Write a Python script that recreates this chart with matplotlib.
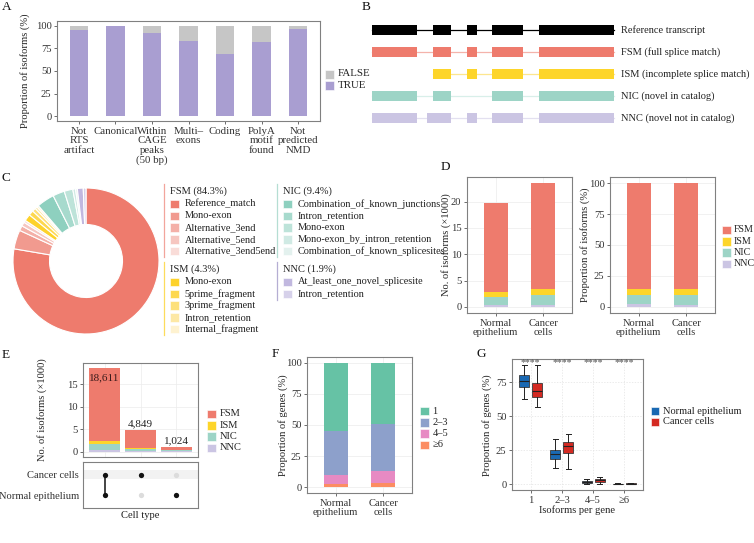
import matplotlib
matplotlib.use("Agg")
import matplotlib.pyplot as plt
import matplotlib.patches as patches
import numpy as np

plt.rcParams["font.family"] = ["Liberation Serif", "DejaVu Serif"]
plt.rcParams["font.size"] = 7
plt.rcParams["text.color"] = "#222222"

# ---------------- data ----------------
# A
a_labels = ["Not\nRTS\nartifact", "Canonical", "Within\nCAGE\npeaks\n(50 bp)", "Multi\u2013\nexons",
            "Coding", "PolyA\nmotif\nfound", "Not\npredicted\nNMD"]
a_true = [95.0, 99.5, 91.5, 83.0, 69.0, 82.0, 96.5]
a_false = [5.0, 0.5, 8.5, 17.0, 31.0, 18.0, 3.5]

# B (schematic exon coordinates, arbitrary units)
b_rows = ["Reference transcript", "FSM (full splice match)", "ISM (incomplete splice match)",
          "NIC (novel in catalog)", "NNC (novel not in catalog)"]
b_ref = [(0, 45), (61, 79), (95, 105), (120, 151), (167, 242)]
b_exons = [b_ref, b_ref, b_ref[1:], [b_ref[0], b_ref[1], b_ref[3], b_ref[4]],
           [(0, 45), (55, 79), (95, 105), (120, 151), (167, 242)]]

# C
fsm_labels = ["Reference_match", "Mono-exon", "Alternative_3end", "Alternative_5end", "Alternative_3end5end"]
fsm_pct = [77.6, 4.2, 1.1, 0.9, 0.5]
ism_labels = ["Mono-exon", "5prime_fragment", "3prime_fragment", "Intron_retention", "Internal_fragment"]
ism_pct = [1.5, 1.1, 0.8, 0.5, 0.4]
nic_labels = ["Combination_of_known_junctions", "Intron_retention", "Mono-exon",
              "Mono-exon_by_intron_retention", "Combination_of_known_splicesites"]
nic_pct = [3.9, 2.6, 1.9, 0.6, 0.4]
nnc_labels = ["At_least_one_novel_splicesite", "Intron_retention"]
nnc_pct = [1.3, 0.6]

# D (x1000 isoforms)
cells = ["Normal\nepithelium", "Cancer\ncells"]
d_fsm = [16.95, 20.10]
d_ism = [0.90, 1.10]
d_nic = [1.50, 1.90]
d_nnc = [0.40, 0.40]

# E
e_totals = [18611, 4849, 1024]
e_fsm = [16.16, 4.05, 0.70]
e_ism = [0.75, 0.20, 0.07]
e_nic = [1.35, 0.50, 0.20]
e_nnc = [0.35, 0.10, 0.05]
e_cancer = [1, 1, 0]
e_normal = [1, 0, 1]

# F
f_groups = ["1", "2\u20133", "4\u20135", "\u22656"]
f_1 = [55.1, 48.9]
f_23 = [35.5, 38.5]
f_45 = [7.2, 9.4]
f_6 = [2.2, 3.2]

# G  (whisker low, q1, median, q3, whisker high)
g_cats = ["1", "2\u20133", "4\u20135", "\u22656"]
g_normal = [[62.5, 71.3, 76.0, 80.4, 87.8], [12.2, 18.4, 22.0, 25.2, 33.3],
            [0.5, 1.3, 2.0, 2.7, 4.0], [0.0, 0.1, 0.3, 0.5, 0.8]]
g_cancer = [[56.6, 64.0, 68.6, 74.7, 87.8], [11.0, 22.8, 28.2, 31.3, 36.8],
            [0.5, 2.0, 3.0, 3.8, 5.5], [0.0, 0.2, 0.4, 0.7, 1.0]]

# ---------------- colours ----------------
C_FSM, C_ISM, C_NIC, C_NNC = "#EE7B6D", "#FDD52A", "#9DD4C6", "#CBC5E3"
iso_cols = [C_FSM, C_ISM, C_NIC, C_NNC]

W, H = 754, 543
fig = plt.figure(figsize=(W / 100, H / 100), dpi=100)


def px_axes(l, t, r, b):
    return fig.add_axes([l / W, 1 - b / H, (r - l) / W, (b - t) / H])


def px_text(x, y, s, **kw):
    kw.setdefault("va", "center")
    fig.text(x / W, 1 - y / H, s, **kw)


def px_legend(x, y, labels, colors, dy=11.3, box=8.5, gap=4, fs=7.5):
    for i, (lab, c) in enumerate(zip(labels, colors)):
        yy = y + i * dy
        fig.patches.append(patches.Rectangle((x / W, 1 - (yy + box / 2) / H), box / W, box / H,
                                             transform=fig.transFigure, facecolor=c,
                                             edgecolor="white", linewidth=0.4))
        px_text(x + box + gap, yy, lab, ha="left", fontsize=fs)


def style(ax, grid=True):
    for s in ax.spines.values():
        s.set_color("#808080")
        s.set_linewidth(0.8)
    ax.tick_params(length=2.5, width=0.6, color="#555555", labelcolor="#333333",
                   labelsize=7.6, pad=1.5)
    if grid:
        ax.grid(color="#ececec", linewidth=0.5)
        ax.set_axisbelow(True)


def stacked(ax, x, layers, colors, width):
    bottom = np.zeros(len(x))
    for vals, c in zip(layers, colors):
        ax.bar(x, vals, width, bottom=bottom, color=c, linewidth=0)
        bottom = bottom + np.array(vals)


# ---------------- A ----------------
ax = px_axes(57, 21, 320, 121)
x = np.arange(len(a_labels))
ax.bar(x, a_true, 0.5, color="#A99ED1", linewidth=0)
ax.bar(x, a_false, 0.5, bottom=a_true, color="#C6C6C6", linewidth=0)
ax.set_xlim(-0.6, 6.6)
ax.set_ylim(-5, 105)
ax.set_yticks([0, 25, 50, 75, 100])
ax.set_xticks(x)
ax.set_xticklabels(a_labels, linespacing=1.1)
style(ax, grid=False)
ax.tick_params(axis="x", labelsize=7.8)
px_text(25, 71, "Proportion of isoforms (%)", rotation=90, ha="center", fontsize=7.6)
px_legend(325, 74, ["FALSE", "TRUE"], ["#C6C6C6", "#A99ED1"], dy=11.7, box=9, fs=7.8)

# ---------------- B ----------------
ax = px_axes(365, 15, 754, 135)
ax.set_xlim(365, 754)
ax.set_ylim(135, 15)
ax.axis("off")
b_y = [30, 52, 74, 96, 118]
b_cols = ["#000000", C_FSM, C_ISM, C_NIC, C_NNC]
b_intron = ["#000000", "#F4B3AB", "#FDE68F", "#D8EFE9", "#E3E0F0"]
x0 = 372
for lab, exs, yy, c, ci in zip(b_rows, b_exons, b_y, b_cols, b_intron):
    ax.plot([x0 + exs[0][0], x0 + exs[-1][1]], [yy, yy], color=ci, lw=0.9, zorder=1)
    for s, e in exs:
        ax.add_patch(patches.Rectangle((x0 + s, yy - 5), e - s, 10, facecolor=c,
                                       edgecolor="none", zorder=2))
    ax.text(621, yy, lab, va="center", ha="left", fontsize=7.5)

# ---------------- C ----------------
ax = px_axes(13, 188, 159, 334)
fsm_c = ["#EE7B6D", "#F19A8F", "#F4B0A8", "#F6C6C0", "#F9DCD8"]
ism_c = ["#FDD22B", "#FDD84F", "#FDE07A", "#FDE8A5", "#FEF2D0"]
nic_c = ["#8ED0BF", "#A7DACD", "#BDE3D9", "#D0EAE4", "#E3F1EE"]
nnc_c = ["#C1B8DF", "#D6D1EA"]
ax.pie(fsm_pct + ism_pct + nic_pct + nnc_pct, colors=fsm_c + ism_c + nic_c + nnc_c,
       startangle=90, counterclock=False, radius=1,
       wedgeprops=dict(width=0.5, edgecolor="white", linewidth=0.8))
ax.set_xlim(-1, 1)
ax.set_ylim(-1, 1)
ax.set_aspect("equal")


def c_group(xl, y, title, labels, cols, line_col):
    px_text(xl + 6, y, title, ha="left", fontsize=7.5)
    top, bot = y - 7, y + 13 + 11.8 * (len(labels) - 1) + 6
    fig.add_artist(plt.Line2D([xl / W, xl / W], [1 - top / H, 1 - bot / H], color=line_col, lw=0.9))
    px_legend(xl + 6, y + 13, labels, cols, dy=11.8, box=8.5, gap=6, fs=7.4)


c_group(164, 191, "FSM (84.3%)", fsm_labels, fsm_c, "#F2A59C")
c_group(164, 269, "ISM (4.3%)", ism_labels, ism_c, "#FDDC5C")
c_group(277, 191, "NIC (9.4%)", nic_labels, nic_c, "#B5DED3")
c_group(277, 269, "NNC (1.9%)", nnc_labels, nnc_c, "#B5AED3")

# ---------------- D ----------------
xd = np.arange(1, 3)
ax = px_axes(467, 177, 572, 313)
stacked(ax, xd, [d_nnc, d_nic, d_ism, d_fsm], [C_NNC, C_NIC, C_ISM, C_FSM], 0.5)
ax.set_xlim(0.4, 2.6)
ax.set_ylim(-1.18, 24.7)
ax.set_yticks([0, 5, 10, 15, 20])
ax.set_xticks(xd)
ax.set_xticklabels(cells, linespacing=1.1)
style(ax)
px_text(446, 245, "No. of isoforms (\u00d71000)", rotation=90, ha="center", fontsize=7.6)

d_tot = np.array(d_fsm) + np.array(d_ism) + np.array(d_nic) + np.array(d_nnc)
ax = px_axes(610, 177, 715, 313)
stacked(ax, xd, [np.array(v) / d_tot * 100 for v in (d_nnc, d_nic, d_ism, d_fsm)],
        [C_NNC, C_NIC, C_ISM, C_FSM], 0.5)
ax.set_xlim(0.4, 2.6)
ax.set_ylim(-5, 105)
ax.set_yticks([0, 25, 50, 75, 100])
ax.set_xticks(xd)
ax.set_xticklabels(cells, linespacing=1.1)
style(ax)
px_text(585, 245, "Proportion of isoforms (%)", rotation=90, ha="center", fontsize=7.6)
px_legend(722, 230, ["FSM", "ISM", "NIC", "NNC"], iso_cols, box=8.5, gap=3, fs=7.2)

# ---------------- E ----------------
xe = np.arange(1, 4)
ax = px_axes(83, 363, 198, 457)
stacked(ax, xe, [e_nnc, e_nic, e_ism, e_fsm], [C_NNC, C_NIC, C_ISM, C_FSM], 0.88)
ax.set_xlim(0.4, 3.6)
ax.set_ylim(-1.2, 19.7)
ax.set_yticks([0, 5, 10, 15])
ax.set_xticks(xe)
style(ax)
ax.tick_params(axis="x", length=0, labelbottom=False)
for xi, t in zip(xe, e_totals):
    v = t / 1000
    if v > 17:
        ax.annotate(f"{t:,}", (xi, v), xytext=(0, -7), textcoords="offset points",
                    ha="center", va="center", fontsize=8, color="#3a1a1a")
    else:
        ax.annotate(f"{t:,}", (xi, v), xytext=(0, 4.5), textcoords="offset points",
                    ha="center", va="center", fontsize=8, color="#222222")
px_text(42, 410, "No. of isoforms (\u00d71000)", rotation=90, ha="center", fontsize=7.6)
px_legend(207, 414, ["FSM", "ISM", "NIC", "NNC"], iso_cols)

ax = px_axes(83, 462, 198, 508)
ax.set_xlim(0.4, 3.6)
ax.set_ylim(0.4, 2.6)
ax.axhspan(1.8, 2.2, color="#f2f2f2", lw=0)
for xi, c, n in zip(xe, e_cancer, e_normal):
    ys = [yy for yy, m in ((2, c), (1, n)) if m]
    if len(ys) > 1:
        ax.plot([xi, xi], [min(ys), max(ys)], color="#111111", lw=1.1)
    ax.plot(xi, 2, "o", ms=3.8, color="#111111" if c else "#dcdcdc", mec="none")
    ax.plot(xi, 1, "o", ms=3.8, color="#111111" if n else "#dcdcdc", mec="none")
ax.set_yticks([2, 1])
ax.set_yticklabels(["Cancer cells", "Normal epithelium"])
ax.set_xticks([])
style(ax, grid=False)
ax.tick_params(axis="y", length=0, pad=3, labelsize=7.6)
px_text(140, 516, "Cell type", ha="center", fontsize=7.6)

# ---------------- F ----------------
ax = px_axes(307, 357, 412, 493)
f_cols = ["#FC8D62", "#E78AC3", "#8DA0CB", "#66C2A5"]
stacked(ax, xd, [f_6, f_45, f_23, f_1], f_cols, 0.5)
ax.set_xlim(0.4, 2.6)
ax.set_ylim(-4.8, 104.8)
ax.set_yticks([0, 25, 50, 75, 100])
ax.set_xticks(xd)
ax.set_xticklabels(cells, linespacing=1.1)
style(ax)
px_text(283, 425, "Proportion of genes (%)", rotation=90, ha="center", fontsize=7.6)
px_legend(420, 411, f_groups, f_cols[::-1])

# ---------------- G ----------------
ax = px_axes(512, 359, 643, 490)
xg = np.arange(1, len(g_cats) + 1)
for stats_list, off, col in ((g_normal, -0.21, "#1A69B3"), (g_cancer, 0.21, "#D42A22")):
    bx = [dict(whislo=s[0], q1=s[1], med=s[2], q3=s[3], whishi=s[4], fliers=[]) for s in stats_list]
    ax.bxp(bx, positions=xg + off, widths=0.32, patch_artist=True, showfliers=False,
           capwidths=0.16, manage_ticks=False,
           boxprops=dict(facecolor=col, edgecolor="#3a3a3a", linewidth=0.6),
           medianprops=dict(color="#222222", linewidth=0.8),
           whiskerprops=dict(color="#222222", linewidth=0.7),
           capprops=dict(color="#222222", linewidth=0.7))
for xi in xg:
    ax.text(xi, 89.3, "****", ha="center", va="center", fontsize=7, color="#555555")
ax.set_xlim(0.4, 4.6)
ax.set_ylim(-4.2, 92.1)
ax.set_yticks([0, 25, 50, 75])
ax.set_xticks(xg)
ax.set_xticklabels(g_cats)
style(ax, grid=False)
ax.grid(color="#e3e3e3", linewidth=0.5, linestyle=(0, (2, 2)))
ax.set_axisbelow(True)
px_text(487, 425, "Proportion of genes (%)", rotation=90, ha="center", fontsize=7.6)
px_text(577, 510, "Isoforms per gene", ha="center", fontsize=7.6)
px_legend(651, 411, ["Normal epithelium", "Cancer cells"], ["#1A69B3", "#D42A22"], dy=11, box=8)

# ---------------- panel letters ----------------
for lab, (lx, ly) in {"A": (2, 7), "B": (362, 7), "C": (2, 178), "D": (441, 167),
                      "E": (2, 355), "F": (272, 354), "G": (477, 354)}.items():
    px_text(lx, ly, lab, ha="left", fontsize=9.5, color="#111111")

fig.savefig("out.png", dpi=100, facecolor="white")
